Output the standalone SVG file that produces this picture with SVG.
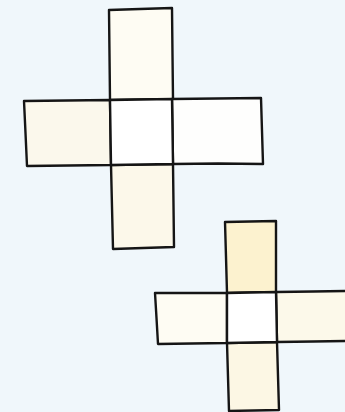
<svg xmlns="http://www.w3.org/2000/svg" width="345" height="412" viewBox="0 0 345 412">
<style>
.c{stroke:#151515;stroke-width:2.4;stroke-linejoin:round;stroke-linecap:round}
</style>
<rect width="345" height="412" fill="#f0f7fb"/>
<g id="cross1">
<g id="c1-top"><path class="c" fill="#fefcf3" d="M109,10 L140,9 L172,8 L172.5,55 L173,99 L141,99.5 L110,100 L109.5,55 Z"/></g>
<g id="c1-left"><path class="c" fill="#fbf8ec" d="M24,101 L67,100.5 L110,100 L110.5,132 L111,165 L69,165.5 L27,166 L25.5,133 Z"/></g>
<g id="c1-right"><path class="c" fill="#fefefd" d="M172,99 L217,98.5 L261,98 L262,131 L263,164 L218,163.5 L173,164 L172.5,131 Z"/></g>
<g id="c1-bottom"><path class="c" fill="#fcf8ea" d="M111,165 L142,164.5 L173,164 L173.5,205 L174,247 L143,248 L113,249 L112,207 Z"/></g>
<g id="c1-center"><path class="c" fill="#ffffff" d="M110,100 L141,99.5 L172,99 L172.5,131 L173,164 L142,164.5 L111,165 L110.5,132 Z"/></g>
</g>
<g id="cross2">
<g id="c2-top"><path class="c" fill="#fcf2cf" d="M225,222 L250,221.5 L276,221 L276,256 L276,292 L251,292.5 L227,293 L226,257 Z"/></g>
<g id="c2-left"><path class="c" fill="#fefcf3" d="M155,293 L191,293 L227,293 L227,318 L227,343 L192,343.5 L158,344 L156.5,318 Z"/></g>
<g id="c2-right"><path class="c" fill="#fcf9ea" d="M276,292 L313,291.5 L350,291 L350,341 L313,341.5 L277,342 L276.5,317 Z"/></g>
<g id="c2-bottom"><path class="c" fill="#fcf7e4" d="M227,343 L252,342.5 L277,342 L278,376 L279,410 L254,410.5 L229,411 L228,377 Z"/></g>
<g id="c2-center"><path class="c" fill="#ffffff" d="M227,293 L251,292.5 L276,292 L276.5,317 L277,342 L252,342.5 L227,343 L227,318 Z"/></g>
</g>
</svg>
